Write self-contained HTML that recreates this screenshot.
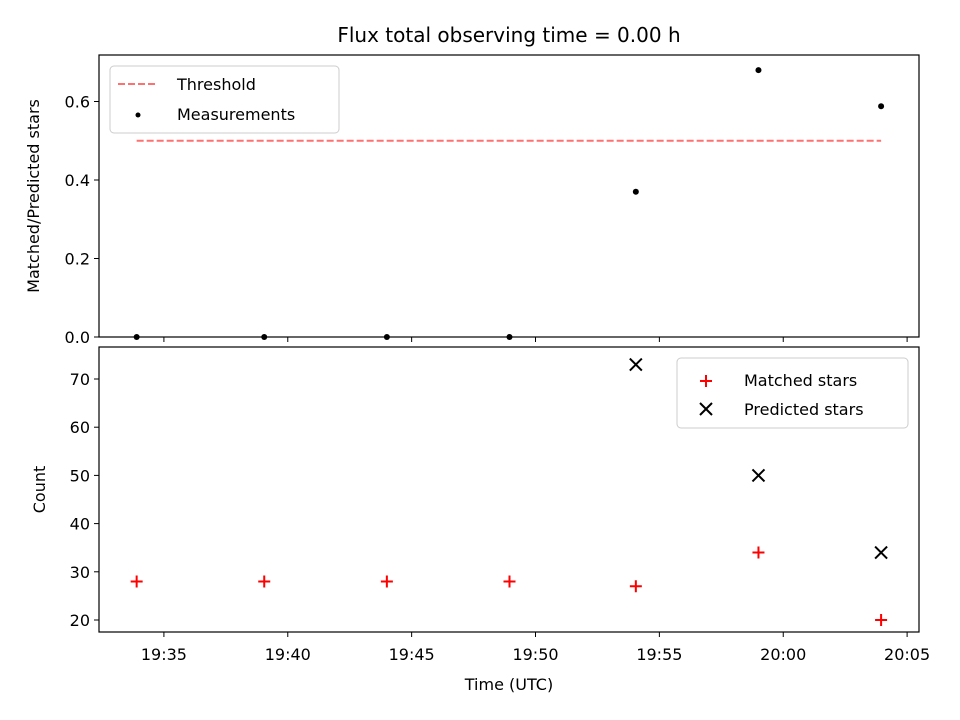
<!DOCTYPE html>
<html><head><meta charset="utf-8"><style>
body{margin:0;background:#fff;}
svg{display:block;font-family:"DejaVu Sans","Liberation Sans",sans-serif;}
</style></head><body>
<svg id="chart" width="960" height="720" viewBox="0 0 960 720"></svg>
<script>
const timesMin = [33.9, 39.05, 44.0, 48.95, 54.05, 59.0, 63.95];
const ratioValues = [0, 0, 0, 0, 0.37, 0.68, 0.588];
const matchedValues = [28, 28, 28, 28, 27, 34, 20];
const predictedValues = [null, null, null, null, 73, 50, 34];
const thresholdValue = 0.5;
const xTickMin = [35, 40, 45, 50, 55, 60, 65];
const xTickLabels = ["19:35","19:40","19:45","19:50","19:55","20:00","20:05"];
const topTicks = [0.0, 0.2, 0.4, 0.6];
const topTickLabels = ["0.0","0.2","0.4","0.6"];
const botTicks = [20, 30, 40, 50, 60, 70];

const NS="http://www.w3.org/2000/svg";
const svg=document.getElementById('chart');
function el(tag,attrs,parent,text){const e=document.createElementNS(NS,tag);for(const k in attrs)e.setAttribute(k,attrs[k]);if(text!==undefined)e.textContent=text;(parent||svg).appendChild(e);return e;}

const L=99,R=919;
const xMin=32.38,xMax=65.48;
const X=v=>L+(v-xMin)/(xMax-xMin)*(R-L);
const T1=55,B1=337, topMin=0, topMax=0.7185;
const Y1=v=>B1-(v-topMin)/(topMax-topMin)*(B1-T1);
const T2=347,B2=632, botMin=17.51, botMax=76.64;
const Y2=v=>B2-(v-botMin)/(botMax-botMin)*(B2-T2);

let t=el('text',{x:509,y:42,'text-anchor':'middle','font-size':20});
t.textContent="Flux total observing time = 0.00 h";



const g1=el('g',{});


let th=el('line',{x1:X(timesMin[0]),x2:X(timesMin[timesMin.length-1]),y1:Y1(thresholdValue),y2:Y1(thresholdValue),stroke:'#ff7070','stroke-width':2,'stroke-dasharray':'7,3'},g1);


ratioValues.forEach((v,i)=>{
  const c=el('circle',{cx:X(timesMin[i]),cy:Y1(v),r:3,fill:'#000'},g1);
  
  
});
el('rect',{x:L,y:T1,width:R-L,height:B1-T1,fill:'none',stroke:'#000','stroke-width':1.2},g1);
topTicks.forEach((v,i)=>{
  el('line',{x1:L-5,x2:L,y1:Y1(v),y2:Y1(v),stroke:'#000'},g1);
  const tx=el('text',{x:L-9,y:Y1(v)+6,'text-anchor':'end','font-size':16},g1,topTickLabels[i]);
  
  
});
xTickMin.forEach(v=>el('line',{x1:X(v),x2:X(v),y1:B1,y2:B1+5,stroke:'#000'},g1));
let yt1=el('text',{transform:`translate(39,${(T1+B1)/2}) rotate(-90)`,'text-anchor':'middle','font-size':16},g1,"Matched/Predicted stars");


const lg1=el('g',{},g1);


el('rect',{x:110,y:66,width:229,height:67,rx:4,fill:'#fff',stroke:'#ccc'},lg1);
el('line',{x1:118,x2:158,y1:84,y2:84,stroke:'#ff7070','stroke-width':2,'stroke-dasharray':'7,3'},lg1);
el('text',{x:177,y:90,'font-size':16},lg1,"Threshold");
el('circle',{cx:138,cy:115,r:2.5,fill:'#000'},lg1);
el('text',{x:177,y:120,'font-size':16},lg1,"Measurements");

const g2=el('g',{});


matchedValues.forEach((v,i)=>{
  const x=X(timesMin[i]),y=Y2(v);
  const p=el('path',{d:`M${x-6},${y}H${x+6}M${x},${y-6}V${y+6}`,stroke:'#f00','stroke-width':2},g2);
  
  
});
predictedValues.forEach((v,i)=>{
  if(v===null)return;
  const x=X(timesMin[i]),y=Y2(v);
  const p=el('path',{d:`M${x-6},${y-6}L${x+6},${y+6}M${x-6},${y+6}L${x+6},${y-6}`,stroke:'#000','stroke-width':2},g2);
  
  
});
el('rect',{x:L,y:T2,width:R-L,height:B2-T2,fill:'none',stroke:'#000','stroke-width':1.2},g2);
botTicks.forEach(v=>{
  el('line',{x1:L-5,x2:L,y1:Y2(v),y2:Y2(v),stroke:'#000'},g2);
  const tx=el('text',{x:L-9,y:Y2(v)+6,'text-anchor':'end','font-size':16},g2,String(v));
  
  
});
xTickMin.forEach((v,i)=>{
  el('line',{x1:X(v),x2:X(v),y1:B2,y2:B2+5,stroke:'#000'},g2);
  const tx=el('text',{x:X(v),y:B2+28,'text-anchor':'middle','font-size':16},g2,xTickLabels[i]);
  
  
});
let yt2=el('text',{transform:`translate(45,${(T2+B2)/2}) rotate(-90)`,'text-anchor':'middle','font-size':16},g2,"Count");


let xt=el('text',{x:509,y:690,'text-anchor':'middle','font-size':16},g2,"Time (UTC)");


const lg2=el('g',{},g2);


el('rect',{x:677,y:358,width:231,height:70,rx:4,fill:'#fff',stroke:'#ccc'},lg2);
el('path',{d:'M700,381H712M706,375V387',stroke:'#f00','stroke-width':2},lg2);
el('text',{x:744,y:386,'font-size':16},lg2,"Matched stars");
el('path',{d:'M700,403L712,415M700,415L712,403',stroke:'#000','stroke-width':2},lg2);
el('text',{x:744,y:415,'font-size':16},lg2,"Predicted stars");
</script>
</body></html>
